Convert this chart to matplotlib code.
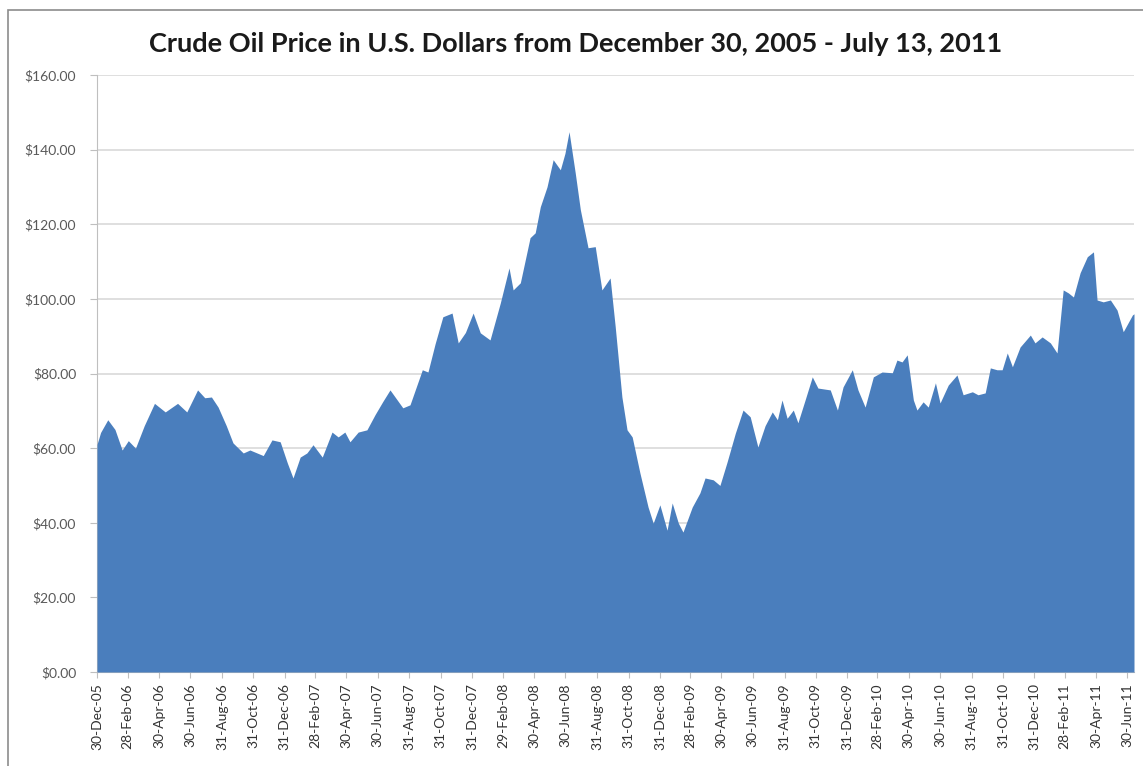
import matplotlib
matplotlib.use("Agg")
import matplotlib.pyplot as plt
import matplotlib.patches as patches
import pandas as pd

# weekly-ish closing prices
dates = [
    "2005-12-30", "2006-01-06", "2006-01-20", "2006-02-03", "2006-02-17", "2006-03-01",
    "2006-03-15", "2006-04-01", "2006-04-21", "2006-05-12", "2006-06-05", "2006-06-23",
    "2006-07-14", "2006-07-28", "2006-08-10", "2006-08-23", "2006-09-08", "2006-09-21",
    "2006-10-11", "2006-10-24", "2006-11-19", "2006-12-06", "2006-12-22", "2007-01-05",
    "2007-01-16", "2007-01-30", "2007-02-12", "2007-02-24", "2007-03-14", "2007-04-02",
    "2007-04-14", "2007-04-27", "2007-05-07", "2007-05-23", "2007-06-09", "2007-06-25",
    "2007-07-10", "2007-07-24", "2007-08-18", "2007-09-01", "2007-09-25", "2007-10-06",
    "2007-10-20", "2007-11-04", "2007-11-22", "2007-12-04", "2007-12-18", "2008-01-02",
    "2008-01-16", "2008-02-04", "2008-02-24", "2008-03-12", "2008-03-20", "2008-04-03",
    "2008-04-22", "2008-05-02", "2008-05-12", "2008-05-25", "2008-06-06", "2008-06-20",
    "2008-06-29", "2008-07-07", "2008-07-19", "2008-07-29", "2008-08-13", "2008-08-27",
    "2008-09-09", "2008-09-25", "2008-10-05", "2008-10-18", "2008-10-28", "2008-11-07",
    "2008-11-22", "2008-12-08", "2008-12-18", "2008-12-31", "2009-01-14", "2009-01-24",
    "2009-02-05", "2009-02-14", "2009-03-04", "2009-03-19", "2009-03-29", "2009-04-14",
    "2009-04-27", "2009-05-11", "2009-05-27", "2009-06-11", "2009-06-25", "2009-07-10",
    "2009-07-24", "2009-08-07", "2009-08-17", "2009-08-26", "2009-09-05", "2009-09-17",
    "2009-09-26", "2009-10-10", "2009-10-24", "2009-11-04", "2009-11-28", "2009-12-12",
    "2009-12-23", "2010-01-10", "2010-01-21", "2010-02-04", "2010-02-20", "2010-03-09",
    "2010-03-29", "2010-04-07", "2010-04-17", "2010-04-27", "2010-05-09", "2010-05-16",
    "2010-05-28", "2010-06-07", "2010-06-21", "2010-06-30", "2010-07-16", "2010-08-02",
    "2010-08-14", "2010-09-01", "2010-09-12", "2010-09-26", "2010-10-06", "2010-10-19",
    "2010-10-29", "2010-11-08", "2010-11-18", "2010-12-03", "2010-12-23", "2011-01-01",
    "2011-01-15", "2011-01-31", "2011-02-13", "2011-02-25", "2011-03-07", "2011-03-17",
    "2011-03-30", "2011-04-13", "2011-04-25", "2011-05-02", "2011-05-14", "2011-05-28",
    "2011-06-10", "2011-06-22", "2011-07-10", "2011-07-13",
]
prices = [
    61.0, 64.2, 67.6, 65.0, 59.5, 62.0,
    60.0, 66.0, 72.0, 69.7, 72.0, 69.7,
    75.6, 73.5, 73.7, 71.0, 66.0, 61.4,
    58.7, 59.5, 58.0, 62.2, 61.7, 56.0,
    52.0, 57.6, 58.7, 60.9, 57.6, 64.3,
    63.0, 64.3, 61.7, 64.3, 64.9, 69.0,
    72.5, 75.6, 70.8, 71.6, 81.0, 80.4,
    88.0, 95.2, 96.2, 88.2, 91.0, 96.2,
    90.9, 89.0, 98.9, 108.3, 102.4, 104.3,
    116.4, 117.7, 124.7, 130.0, 137.3, 134.6,
    139.0, 144.8, 133.8, 123.9, 113.7, 114.0,
    102.4, 105.6, 92.5, 73.7, 64.9, 63.0,
    53.4, 44.2, 39.9, 44.8, 38.0, 45.3,
    39.9, 37.5, 44.2, 48.0, 52.0, 51.5,
    50.0, 56.3, 64.0, 70.2, 68.4, 60.3,
    66.0, 69.7, 67.6, 72.9, 68.0, 70.2,
    66.8, 72.9, 79.1, 76.1, 75.6, 70.2,
    76.4, 81.0, 75.6, 71.0, 79.1, 80.4,
    80.2, 83.6, 83.1, 85.0, 72.9, 70.2,
    72.4, 71.0, 77.5, 72.1, 76.9, 79.6,
    74.3, 75.1, 74.3, 74.8, 81.5, 81.0,
    81.0, 85.5, 81.8, 87.1, 90.3, 88.2,
    89.8, 88.2, 85.5, 102.4, 101.6, 100.5,
    107.0, 111.3, 112.6, 99.7, 99.2, 99.7,
    97.0, 91.2, 95.7, 96.0,
]
tick_labels = [
    "30-Dec-05", "28-Feb-06", "30-Apr-06", "30-Jun-06", "31-Aug-06", "31-Oct-06",
    "31-Dec-06", "28-Feb-07", "30-Apr-07", "30-Jun-07", "31-Aug-07", "31-Oct-07",
    "31-Dec-07", "29-Feb-08", "30-Apr-08", "30-Jun-08", "31-Aug-08", "31-Oct-08",
    "31-Dec-08", "28-Feb-09", "30-Apr-09", "30-Jun-09", "31-Aug-09", "31-Oct-09",
    "31-Dec-09", "28-Feb-10", "30-Apr-10", "30-Jun-10", "31-Aug-10", "31-Oct-10",
    "31-Dec-10", "28-Feb-11", "30-Apr-11", "30-Jun-11",
]
y_ticks = [0, 20, 40, 60, 80, 100, 120, 140, 160]

plt.rcParams['font.family'] = ['Lato', 'DejaVu Sans']

x = pd.to_datetime(dates)
tick_pos = pd.to_datetime(tick_labels, format="%d-%b-%y")

fig = plt.figure(figsize=(11.43, 7.66), dpi=100)
ax = fig.add_axes([97 / 1143, 1 - 672 / 766, (1134 - 97) / 1143, (672 - 75) / 766])

ax.fill_between(x, prices, 0, color='#4A7EBD', linewidth=0, zorder=3)

ax.set_xlim(pd.Timestamp("2005-12-30"), pd.Timestamp("2011-07-13"))
ax.set_ylim(0, 160)
ax.set_yticks(y_ticks)
ax.set_yticklabels([f"${v:.2f}" for v in y_ticks])
ax.set_xticks(tick_pos)
ax.set_xticklabels(tick_labels, rotation=90)

ax.grid(axis='y', color='#D9D9D9', linewidth=1.2, zorder=0)
for side in ['top', 'right']:
    ax.spines[side].set_visible(False)
ax.spines['left'].set_color('#BFBFBF')
ax.spines['bottom'].set_color('#BFBFBF')
ax.tick_params(axis='y', length=5, color='#BFBFBF', labelsize=10, labelcolor='#595959', pad=10)
ax.tick_params(axis='x', length=4, color='#BFBFBF', labelsize=10, labelcolor='#333333', pad=4)

fig.text(576 / 1143, 1 - 44 / 766, "Crude Oil Price in U.S. Dollars from December 30, 2005 - July 13, 2011",
         ha='center', va='center', fontsize=19.5, fontweight='bold', color='#1a1a1a')

# chart border
fig.patches.append(patches.Rectangle((8 / 1143, -0.01), 1.02 - 8 / 1143, 1 - 10 / 766 + 0.01,
                                     transform=fig.transFigure, fill=False,
                                     edgecolor='#8C8C8C', linewidth=1.2))

fig.savefig("out.png", dpi=100)
